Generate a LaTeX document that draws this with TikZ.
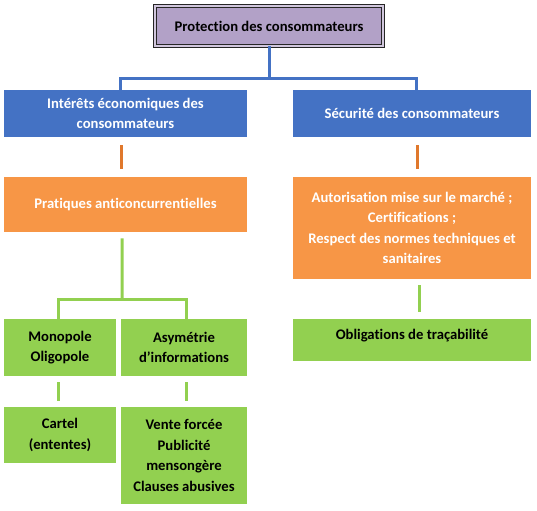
\documentclass[tikz,border=0pt]{standalone}
\usepackage{fontspec}
\setmainfont{Carlito}[Ligatures=CommonOff]
\usepackage{tikz}
\usetikzlibrary{positioning}
\definecolor{protfill}{HTML}{B2A1C7}
\definecolor{ecoblue}{HTML}{4472C4}
\definecolor{pratorange}{HTML}{F79646}
\definecolor{linkorange}{HTML}{E0782C}
\definecolor{monogreen}{HTML}{92D050}
\tikzstyle{Box}=[rectangle, inner sep=2pt, align=center, font=\bfseries\fontsize{11}{15.4}\selectfont]
\tikzstyle{ProtBox}=[Box, fill=protfill, draw=black!85, double=protfill!60!white, double distance=1.5pt]
\tikzstyle{BlueBox}=[Box, fill=ecoblue, text=white]
\tikzstyle{OrangeBox}=[Box, fill=pratorange, text=white]
\tikzstyle{GreenBox}=[Box, fill=monogreen, text=black]
\tikzstyle{BlueLink}=[draw=ecoblue, line width=2.25pt]
\tikzstyle{OrangeLink}=[draw=linkorange, line width=2.25pt]
\tikzstyle{GreenLink}=[draw=monogreen, line width=2.25pt]

\begin{document}
\begin{tikzpicture}[x=0.75pt, y=-0.75pt]
    \useasboundingbox (0,0) rectangle (537,511);
    \path
    (269,26) node[ProtBox, minimum width=171pt, minimum height=30pt] (prot) {Protection des consommateurs}
    (125.5,113.5) node[BlueBox, minimum width=182.25pt, minimum height=35.25pt] (eco) {Intérêts économiques des\\consommateurs}
    (412,113.5) node[BlueBox, minimum width=178.5pt, minimum height=35.25pt] (secu) {Sécurité des consommateurs};

    \path
    (125.5,204.5) node[OrangeBox, minimum width=182.25pt, minimum height=41.25pt] (prat) {Pratiques anticoncurrentielles}
    (412,228) node[OrangeBox, minimum width=178.5pt, minimum height=76.5pt] (autor) {Autorisation mise sur le marché ;\\Certifications ;\\Respect des normes techniques et\\sanitaires};

    \path
    (60,347.5) node[GreenBox, minimum width=84pt, minimum height=42.75pt] (mono) {Monopole\\Oligopole}
    (184,347.5) node[GreenBox, minimum width=94.5pt, minimum height=42.75pt] (asym) {Asymétrie\\d’informations}
    (412,340) node[GreenBox, minimum width=178.5pt, minimum height=31.5pt, text depth=8pt] (oblig) {Obligations de traçabilité}
    (60,435) node[GreenBox, minimum width=84pt, minimum height=42pt] (cartel) {Cartel\\(ententes)}
    (184,455.5) node[GreenBox, minimum width=94.5pt, minimum height=72.75pt] (vente) {Vente forcée\\Publicité\\mensongère\\Clauses abusives};

    % top fork
    \coordinate (fork1) at (269,78);
    \draw[BlueLink] (prot.south) -- (fork1);
    \draw[BlueLink] ([xshift=-4pt]eco.north) |- (fork1) -| ([xshift=3pt]secu.north);

    % short orange links
    \draw[OrangeLink] ([xshift=-3pt, yshift=-6pt]eco.south) -- ([xshift=-3pt, yshift=6pt]prat.north);
    \draw[OrangeLink] ([xshift=3.75pt, yshift=-6pt]secu.south) -- ([xshift=3.75pt, yshift=6pt]autor.north);

    % green fork
    \coordinate (fork2) at (122,299);
    \draw[GreenLink] ([xshift=-2.6pt, yshift=-4.5pt]prat.south) -- (fork2);
    \draw[GreenLink] ([xshift=-1.5pt]mono.north) |- (fork2) -| ([xshift=1.5pt]asym.north);
    \draw[GreenLink] ([xshift=-1.5pt, yshift=-4.5pt]mono.south) -- ([xshift=-1.5pt, yshift=4.5pt]cartel.north);
    \draw[GreenLink] ([xshift=1.5pt, yshift=-4.5pt]asym.south) -- ([xshift=1.5pt, yshift=4.5pt]vente.north);
    \draw[GreenLink] ([xshift=5.25pt, yshift=-4.5pt]autor.south) -- ([xshift=5.25pt, yshift=5.25pt]oblig.north);
\end{tikzpicture}
\end{document}
